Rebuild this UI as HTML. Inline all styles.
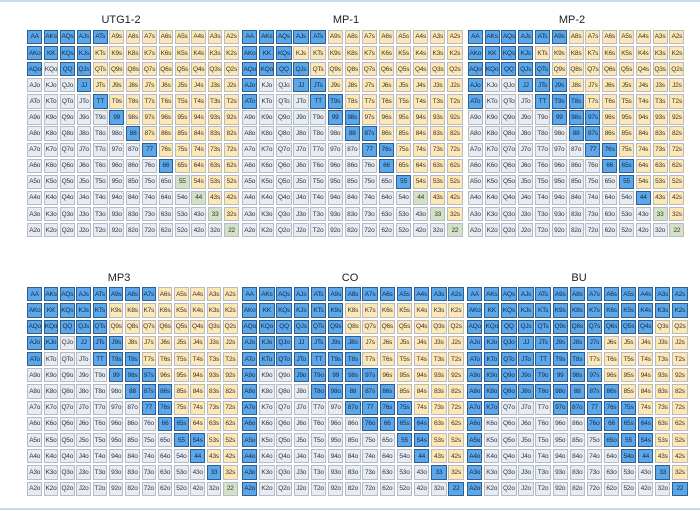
<!DOCTYPE html>
<html><head><meta charset="utf-8">
<style>
body{margin:0;width:700px;height:511px;background:#fff;position:relative;overflow:hidden;font-family:"Liberation Sans",sans-serif}
.t{position:absolute;font-size:11px;color:#222;transform:translateX(-50%)}
.c{position:absolute;box-sizing:border-box;font-size:6.5px;color:#333;display:flex;align-items:center;justify-content:center;border:1px solid #b8bcc2;letter-spacing:-0.2px}
.y{background:#fde8b5}.o{background:#e6ecf4}.g{background:#d3e2c6}
.b{background:#5ba7ea;border:1.5px solid #2e5f8e;color:#102a44}
.ln{position:absolute;left:0;width:700px;height:2px;background:#c9daf0}
</style></head><body>
<div class="ln" style="top:0"></div>
<div class="ln" style="top:508px"></div>
<script>
const ranks=["A","K","Q","J","T","9","8","7","6","5","4","3","2"];
const titles=["UTG1-2","MP-1","MP-2","MP3","CO","BU"];
const utg=["AA","AKs","AQs","AJs","ATs","AKo","KK","KQs","KJs","AQo","QQ","QJs","JJ","TT","99","88","77","66"];
const mp1=["AA","AKs","AQs","AJs","ATs","AKo","KK","KQs","AQo","KQo","QQ","QJs","AJo","JJ","JTs","ATo","TT","T9s","99","98s","88","87s","77","76s","66","55"];
const mp2=["AA","AKs","AQs","AJs","ATs","A9s","AKo","KK","KQs","KJs","AQo","KQo","QQ","QJs","QTs","AJo","JJ","JTs","J9s","ATo","TT","T9s","T8s","99","98s","97s","88","87s","77","76s","66","65s","55","44"];
const mp3=["AA","AKs","AQs","AJs","ATs","A9s","A8s","A7s","AKo","KK","KQs","KJs","KTs","AQo","KQo","QQ","QJs","QTs","AJo","KJo","JJ","JTs","J9s","ATo","TT","T9s","T8s","99","98s","97s","88","87s","86s","77","76s","66","65s","55","54s","44","33"];
const co=["AA","AKs","AQs","AJs","ATs","A9s","A8s","A7s","A6s","A5s","A4s","A3s","A2s","AKo","KK","KQs","KJs","KTs","K9s","AQo","KQo","QQ","QJs","QTs","Q9s","AJo","KJo","QJo","JJ","JTs","J9s","J8s","ATo","KTo","QTo","JTo","TT","T9s","T8s","A9o","J9o","T9o","99","98s","97s","A8o","T8o","98o","88","87s","86s","A7o","87o","77","76s","75s","A6o","76o","66","65s","64s","A5o","55","54s","A4o","44","A3o","33","A2o","22"];
const bu=["AA","AKs","AQs","AJs","ATs","A9s","A8s","A7s","A6s","A5s","A4s","A3s","A2s","AKo","KK","KQs","KJs","KTs","K9s","K8s","K7s","K6s","K5s","K4s","K3s","K2s","AQo","KQo","QQ","QJs","QTs","Q9s","Q8s","Q7s","Q6s","Q5s","Q4s","AJo","KJo","QJo","JJ","JTs","J9s","J8s","J7s","ATo","KTo","QTo","JTo","TT","T9s","T8s","A9o","K9o","Q9o","J9o","T9o","99","98s","97s","A8o","K8o","Q8o","J8o","T8o","98o","88","87s","86s","A7o","K7o","97o","87o","77","76s","75s","A6o","76o","66","65s","64s","A5o","65o","55","54s","A4o","54o","44","A3o","33","A2o","22"];
const ranges=[utg,mp1,mp2,mp3,co,bu];
const geo=[[34.7,16.4,37,16.1,121,14],[249.7,17.1,37,16.1,346,14],[475.3,16.8,37,16.1,572,14],
[34.7,16.3,294.3,16.2,119,272],[249.7,17.2,294.3,16.2,350,272],[474.7,17.1,294.3,16.2,579,272]];
for(let g=0;g<6;g++){
 const [cx,px,cy,py,tx,ty]=geo[g];
 const t=document.createElement('div');t.className='t';t.textContent=titles[g];
 t.style.left=tx+'px';t.style.top=ty+'px';
 
 
 document.body.appendChild(t);
 for(let r=0;r<13;r++)for(let c=0;c<13;c++){
  let h,cls;
  if(r===c){h=ranks[r]+ranks[c];cls='g';}
  else if(c>r){h=ranks[r]+ranks[c]+'s';cls='y';}
  else{h=ranks[c]+ranks[r]+'o';cls='o';}
  if(ranges[g].includes(h))cls='b';
  const d=document.createElement('div');d.className='c '+cls;d.textContent=h;
  const w=px-1.8,hh=py-1.8;
  d.style.left=(cx+c*px-w/2)+'px';d.style.top=(cy+r*py-hh/2)+'px';
  d.style.width=w+'px';d.style.height=hh+'px';
  
  
  document.body.appendChild(d);
 }
}
</script>
</body></html>
